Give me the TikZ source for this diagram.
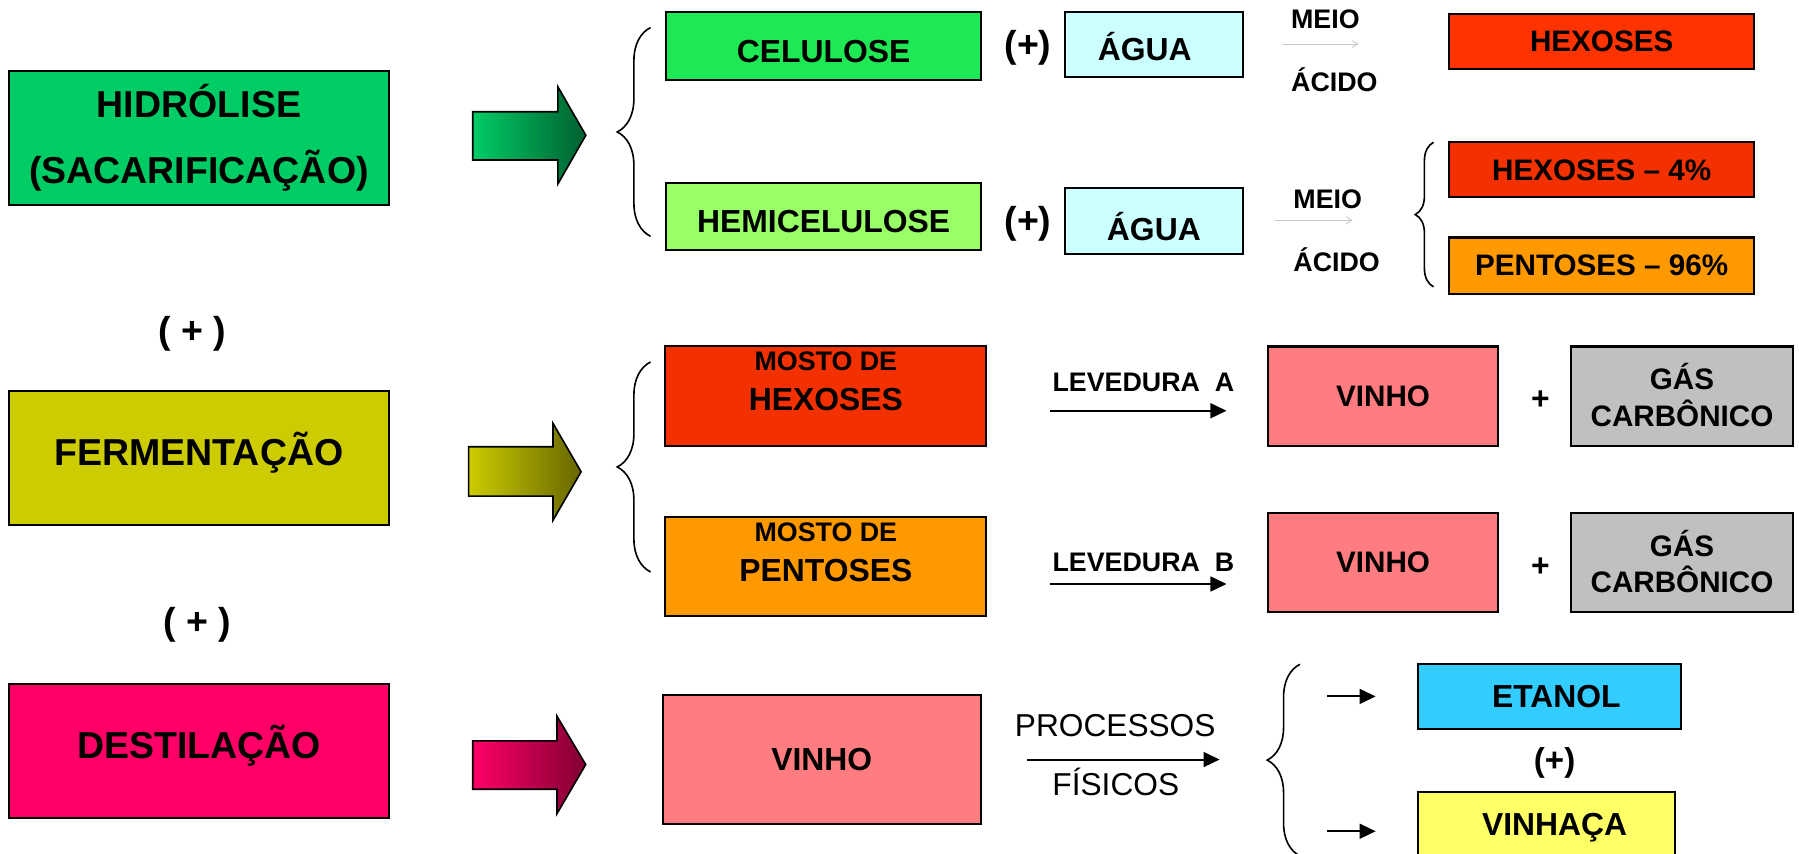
\documentclass[tikz,border=0pt]{standalone}
\usepackage{fontspec}
\setmainfont{Liberation Sans}
\usetikzlibrary{arrows.meta,decorations.pathreplacing}

\definecolor{hidroGreen}{RGB}{0,204,102}
\definecolor{darkGreen}{RGB}{0,96,48}
\definecolor{celGreen}{RGB}{30,232,84}
\definecolor{hemiGreen}{RGB}{153,255,102}
\definecolor{aguaCyan}{RGB}{204,255,255}
\definecolor{hexRed}{RGB}{255,51,0}
\definecolor{hexDark}{RGB}{243,48,0}
\definecolor{penOrange}{RGB}{255,153,0}
\definecolor{fermYellow}{RGB}{204,204,0}
\definecolor{darkOlive}{RGB}{102,102,0}
\definecolor{vinhoPink}{RGB}{255,124,128}
\definecolor{gasGray}{RGB}{192,192,192}
\definecolor{destPink}{RGB}{255,0,102}
\definecolor{darkPink}{RGB}{128,0,51}
\definecolor{etanolBlue}{RGB}{51,204,255}
\definecolor{vinhacaYellow}{RGB}{255,255,102}

\newcommand{\fntHid}{\fontsize{18.6}{33}\selectfont\bfseries}
\newcommand{\fntBig}{\fontsize{18.6}{22}\selectfont\bfseries}
\newcommand{\fntMid}{\fontsize{15.8}{19}\selectfont\bfseries}
\newcommand{\fntEt}{\fontsize{16.4}{19}\selectfont\bfseries}
\newcommand{\fntSml}{\fontsize{14.7}{17}\selectfont\bfseries}
\newcommand{\fntGas}{\fontsize{14.7}{18.2}\selectfont\bfseries}
\newcommand{\fntTny}{\fontsize{13.3}{16}\selectfont\bfseries}
\newcommand{\fntReg}{\fontsize{15.7}{19}\selectfont}

\begin{document}
\begin{tikzpicture}[x=0.2mm, y=-0.2mm, >={Triangle[length=2.8mm,width=2.6mm]},
    every node/.style={inner sep=0pt},
    box/.style={draw=black, line width=1pt},
    boxsize/.style 2 args={minimum width=#1*0.2mm, minimum height=#2*0.2mm},
    bigtxt/.style={font=\fntBig, text height=16.8pt, text depth=9.4pt},
    midtxt/.style={font=\fntMid, text height=14.3pt, text depth=3.4pt},
    lowtxt/.style={font=\fntMid, text height=19.1pt, text depth=3.4pt},
    smltxt/.style={font=\fntSml, text height=13.3pt, text depth=3.1pt},
    flow/.style={->, line width=1pt},
    meioarrow/.style={draw=gray!45, line width=0.4pt, >={Straight Barb[length=1mm,width=1.2mm]}, ->},
    curly/.style={decorate, decoration={brace, amplitude=#1}, line width=0.8pt}]
    \useasboundingbox (0,0) rectangle (1568,744.3);
    \clip (0,0) rectangle (1568,744.3);
    \fill[white] (0,0) rectangle (1568,744.3);

    \node[box, fill=hidroGreen, boxsize={331.8}{117}, font=\fntHid, align=center] (hidro) at (173.4,120.2) {HIDRÓLISE\\(SACARIFICAÇÃO)};
    \node[box, bigtxt, fill=fermYellow, boxsize={331.8}{117.1}] (ferm) at (173.4,399.1) {FERMENTAÇÃO};
    \node[box, bigtxt, fill=destPink, boxsize={331.8}{116.5}] (dest) at (173.4,654.8) {DESTILAÇÃO};
    \node[anchor=base, font=\fntBig] (plusHF) at (167.7,299.3) {( + )};
    \node[anchor=base, font=\fntBig] (plusFD) at (172,552.6) {( + )};

    \shade[draw=black, line width=0.8pt, left color=hidroGreen, right color=darkGreen] (412,97.4) -- (486.2,97.4) -- (486.2,75.6) -- (510.6,117.9) -- (486.2,160.4) -- (486.2,139.5) -- (412,139.5) -- cycle;
    \shade[draw=black, line width=0.8pt, left color=fermYellow, right color=darkOlive] (408.4,389.4) -- (482,389.4) -- (482,369) -- (506.5,411.2) -- (482,453.4) -- (482,432.4) -- (408.4,432.4) -- cycle;
    \shade[draw=black, line width=0.8pt, left color=destPink, right color=darkPink] (412,645.7) -- (485.5,645.7) -- (485.5,624.3) -- (510.5,666.4) -- (485.5,709.1) -- (485.5,687.9) -- (412,687.9) -- cycle;

    \draw[curly=5.8mm] (567,206) -- (567,24);
    \draw[curly=3.2mm] (1249.5,250) -- (1249.5,124);
    \draw[curly=5.8mm] (567,498.5) -- (567,315.5);
    \draw[curly=5.7mm] (1133,746) -- (1133,579);

    \node[box, lowtxt, fill=celGreen, boxsize={274.8}{59.3}] (celulose) at (717.9,40.3) {CELULOSE};
    \node[box, lowtxt, fill=hemiGreen, boxsize={274.8}{58.4}] (hemicel) at (717.9,188.8) {HEMICELULOSE};
    \node[anchor=base, font=\fntBig] (plusCel) at (896,50.3) {(+)};
    \node[anchor=base, font=\fntBig] (plusHem) at (896,203.3) {(+)};
    \node[box, lowtxt, fill=aguaCyan, boxsize={154.5}{56.5}] (aguaA) at (1005.7,38.7) {ÁGUA\hspace*{3.2mm}};
    \node[box, font=\fntMid, text height=23pt, text depth=3.4pt, fill=aguaCyan, boxsize={154.5}{57}] (aguaB) at (1005.7,192.5) {ÁGUA};

    \node[anchor=base west, font=\fntTny] (meioA) at (1125,24.7) {MEIO};
    \node[anchor=base west, font=\fntTny] (acidoA) at (1125,80) {ÁCIDO};
    \node[anchor=base west, font=\fntTny] (meioB) at (1127,181.6) {MEIO};
    \node[anchor=base west, font=\fntTny] (acidoB) at (1127,236.9) {ÁCIDO};
    \coordinate (meioA0) at (1117,38.4);
    \coordinate (meioA1) at (1184,38.4);
    \coordinate (meioB0) at (1111,192);
    \coordinate (meioB1) at (1179,192);
    \draw[meioarrow] (meioA0) -- (meioA1);
    \draw[meioarrow] (meioB0) -- (meioB1);

    \node[box, smltxt, fill=hexRed, boxsize={266}{48}] (hexA) at (1396,36) {HEXOSES};
    \node[box, smltxt, fill=hexDark, boxsize={266}{48}] (hexB) at (1396,148) {HEXOSES – 4\%};
    \node[box, smltxt, fill=penOrange, boxsize={266}{49}] (penB) at (1396,231.5) {PENTOSES – 96\%};

    \node[box, fill=hexDark, boxsize={279.6}{86.5}] (mostoHex) at (719.8,345.2) {};
    \node[anchor=base, font=\fntTny] (mostoHexA) at ([yshift=-12.5pt]mostoHex.north) {MOSTO DE};
    \node[anchor=base, font=\fntMid] (mostoHexB) at ([yshift=-32.4pt]mostoHex.north) {HEXOSES};
    \node[box, fill=penOrange, boxsize={279.6}{86}] (mostoPen) at (719.8,494) {};
    \node[anchor=base, font=\fntTny] (mostoPenA) at ([yshift=-12.5pt]mostoPen.north) {MOSTO DE};
    \node[anchor=base, font=\fntMid] (mostoPenB) at ([yshift=-32.4pt]mostoPen.north) {PENTOSES};

    \node[anchor=base west, font=\fntTny] (levA) at (917,341.5) {LEVEDURA\ \ A};
    \node[anchor=base west, font=\fntTny] (levB) at (917,498.4) {LEVEDURA\ \ B};
    \coordinate (levA0) at (915,358);
    \coordinate (levA1) at (1069,358);
    \coordinate (levB0) at (915,509);
    \coordinate (levB1) at (1069,509);
    \draw[flow] (levA0) -- (levA1);
    \draw[flow] (levB0) -- (levB1);

    \node[box, smltxt, fill=vinhoPink, boxsize={201}{87}] (vinhoA) at (1205.5,345.5) {VINHO};
    \node[box, smltxt, fill=vinhoPink, boxsize={201}{86}] (vinhoB) at (1205.5,490) {VINHO};
    \node[anchor=base, font=\fntMid] (plusGasA) at (1342.7,356.8) {+};
    \node[anchor=base, font=\fntMid] (plusGasB) at (1342.7,502.2) {+};
    \node[box, fill=gasGray, boxsize={194}{87}] (gasA) at (1466,345.5) {};
    \node[anchor=north, align=center, font=\fntGas] (gasAtxt) at ([yshift=-8.8pt]gasA.north) {GÁS\\CARBÔNICO};
    \node[box, fill=gasGray, boxsize={194}{86}] (gasB) at (1466,490) {};
    \node[anchor=north, align=center, font=\fntGas] (gasBtxt) at ([yshift=-8.8pt]gasB.north) {GÁS\\CARBÔNICO};

    \node[box, midtxt, fill=vinhoPink, boxsize={276.7}{112.9}] (vinhoDest) at (716.3,662) {VINHO};
    \node[anchor=base, font=\fntReg] (procA) at (972,641.7) {PROCESSOS};
    \node[anchor=base, font=\fntReg] (procB) at (972.5,693) {FÍSICOS};
    \coordinate (fis0) at (895,662);
    \coordinate (fis1) at (1063,662);
    \draw[flow] (fis0) -- (fis1);

    \node[box, midtxt, fill=etanolBlue, boxsize={229}{56.6}] (etanol) at (1350.5,607.3) {\hspace*{2.4mm}ETANOL};
    \node[anchor=base, font=\fntEt] (plusEt) at (1355,672.4) {(+)};
    \node[box, midtxt, fill=vinhacaYellow, boxsize={224}{57}] (vinhaca) at (1348,719) {\hspace*{2.8mm}VINHAÇA};
    \coordinate (etA0) at (1157,607);
    \coordinate (etA1) at (1199,607);
    \coordinate (vhA0) at (1157,724.5);
    \coordinate (vhA1) at (1199,724.5);
    \draw[flow] (etA0) -- (etA1);
    \draw[flow] (vhA0) -- (vhA1);
\end{tikzpicture}
\end{document}
